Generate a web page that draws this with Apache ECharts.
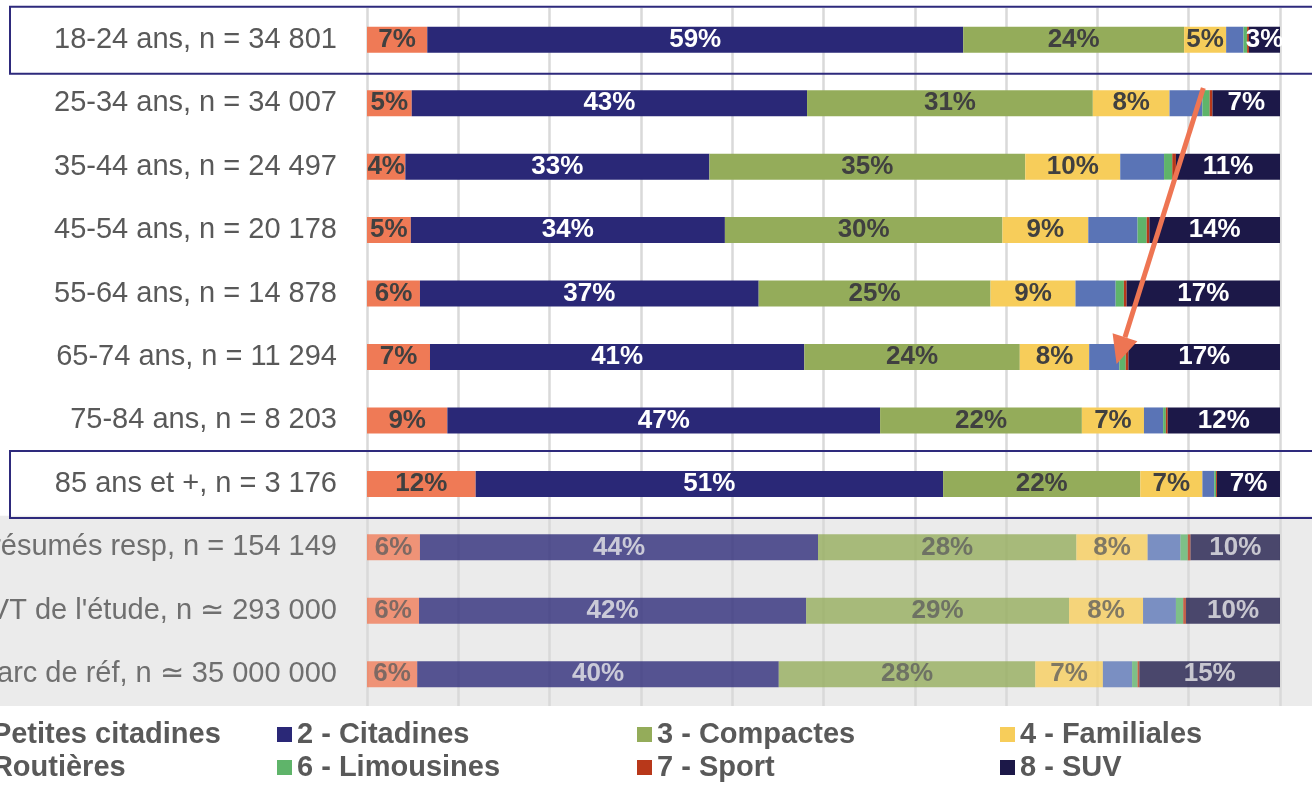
<!DOCTYPE html>
<html>
<head>
<meta charset="utf-8">
<title>Segments par tranche d'âge</title>
<style>
  html, body { margin: 0; padding: 0; background: #ffffff; }
  #chart { width: 1312px; height: 789px; }
</style>
<script src="https://cdn.jsdelivr.net/npm/echarts@6/dist/echarts.min.js"></script>
</head>
<body>
<div id="chart"></div>
<script>
// categories (haut -> bas)
const categories = [
  '18-24 ans, n = 34 801',
  '25-34 ans, n = 34 007',
  '35-44 ans, n = 24 497',
  '45-54 ans, n = 20 178',
  '55-64 ans, n = 14 878',
  '65-74 ans, n = 11 294',
  '75-84 ans, n = 8 203',
  '85 ans et +, n = 3 176',
  'Tous résumés resp, n = 154 149',
  "Total VT de l'étude, n \u2243 293 000",
  'Parc de réf, n \u2243 35 000 000'
];

const segmentNames = [
  '1 - Petites citadines', '2 - Citadines', '3 - Compactes', '4 - Familiales',
  '5 - Routières', '6 - Limousines', '7 - Sport', '8 - SUV'
];

// parts en %, une valeur par catégorie
const petitesCitadines = [6.6, 4.9, 4.2, 4.8, 5.8, 6.9, 8.8, 11.9, 5.8, 5.7, 5.5];
const citadines        = [58.7, 43.3, 33.3, 34.4, 37.1, 41.0, 47.4, 51.2, 43.6, 42.4, 39.6];
const compactes        = [24.2, 31.3, 34.6, 30.4, 25.4, 23.6, 22.1, 21.6, 28.3, 28.8, 28.1];
const familiales       = [4.6, 8.4, 10.4, 9.4, 9.3, 7.6, 6.8, 6.8, 7.8, 8.1, 7.4];
const routieres        = [1.9, 3.6, 4.8, 5.4, 4.4, 3.3, 2.1, 1.3, 3.6, 3.6, 3.2];
const limousines       = [0.4, 0.8, 0.9, 1.0, 0.9, 0.7, 0.3, 0.2, 0.8, 0.8, 0.6];
const sport            = [0.2, 0.3, 0.4, 0.3, 0.3, 0.3, 0.2, 0.1, 0.3, 0.3, 0.2];
const suv              = [3.4, 7.4, 11.4, 14.4, 16.8, 16.6, 12.3, 6.9, 9.8, 10.3, 15.4];

const seriesValues = [petitesCitadines, citadines, compactes, familiales, routieres, limousines, sport, suv];
const colors = ['#EF7A56', '#2A2877', '#94AC5A', '#F7CD5A', '#5A74B6', '#5FB46A', '#B8381A', '#1C1848'];
const labelled = [true, true, true, true, false, false, false, true];
const whiteLabel = [false, true, false, false, false, false, false, true];

const FONT = '"Liberation Sans", Arial, sans-serif';
const firstFaded = 8; // les 3 lignes de référence sur fond gris
const boxedRows = [0, 7];

const chart = echarts.init(document.getElementById('chart'));

const series = seriesValues.map((vals, s) => ({
  name: segmentNames[s],
  type: 'bar',
  stack: 'total',
  barWidth: 26,
  itemStyle: { color: colors[s] },
  label: {
    show: labelled[s],
    position: 'inside',
    fontFamily: FONT,
    fontSize: 26,
    fontWeight: 'bold',
    color: whiteLabel[s] ? '#ffffff' : '#404040',
    formatter: (p) => Math.round(p.value) + '%'
  },
  emphasis: { disabled: true },
  data: vals.map((v, i) => i < firstFaded ? v : {
    value: v,
    itemStyle: { opacity: 0.78 },
    label: { color: whiteLabel[s] ? '#ececec' : '#5e5e5e' }
  })
}));

// une légende par entrée : 4 colonnes x 2 lignes
const legendCols = [-70, 277, 637, 1000];
const legendRows = [720, 753];
const legends = segmentNames.map((name, k) => ({
  data: [name],
  left: legendCols[k % 4],
  top: legendRows[Math.floor(k / 4)],
  icon: 'rect',
  itemWidth: 15,
  itemHeight: 15,
  selectedMode: false,
  padding: 0,
  textStyle: { fontFamily: FONT, fontSize: 29, fontWeight: 'bold', color: '#595959' }
}));

chart.setOption({
  animation: false,
  grid: { left: 367, right: 32, top: 8, bottom: 83, containLabel: false, outerBoundsMode: 'none' },
  xAxis: {
    type: 'value',
    min: 0,
    max: 100,
    interval: 10,
    axisLabel: { show: false },
    axisLine: { show: false },
    axisTick: { show: false },
    splitLine: { lineStyle: { color: '#D9D9D9', width: 2.5 } }
  },
  yAxis: {
    type: 'category',
    inverse: true,
    data: categories.map((c, i) => ({
      value: c,
      textStyle: { color: i < firstFaded ? '#595959' : '#6f6f6f' }
    })),
    axisLine: { show: false },
    axisTick: { show: false },
    axisLabel: { fontFamily: FONT, fontSize: 29, margin: 30 }
  },
  legend: legends,
  series: series
});

// fond gris, cadres et flèche placés à partir des axes
function rowY(i) { return chart.convertToPixel({ yAxisIndex: 0 }, i); }
function valX(v) { return chart.convertToPixel({ xAxisIndex: 0 }, v); }

function drawDecorations() {
  const band = rowY(1) - rowY(0);
  const half = band / 2;
  const graphics = [];

  const bgTop = rowY(firstFaded) - half;
  const bgBottom = rowY(categories.length - 1) + half;
  graphics.push({
    type: 'rect', z: -10, silent: true,
    shape: { x: 0, y: bgTop, width: 1312, height: bgBottom - bgTop },
    style: { fill: '#EBEBEB' }
  });

  boxedRows.forEach((r) => {
    graphics.push({
      type: 'rect', z: 100, silent: true,
      shape: { x: 10, y: rowY(r) - 33, width: 1320, height: 67 },
      style: { fill: null, stroke: '#2E2A7C', lineWidth: 2 }
    });
  });

  // flèche : de 18-24/25-34 vers 65-74
  const sx = valX(91.6), sy = rowY(0) + band * 0.76;
  const tx = valX(82.1), ty = rowY(5) + band * 0.11;
  const dx = tx - sx, dy = ty - sy;
  const len = Math.sqrt(dx * dx + dy * dy);
  const ux = dx / len, uy = dy / len;
  const headLen = 28, headHalf = 13;
  const bx = tx - ux * headLen, by = ty - uy * headLen;
  graphics.push({
    type: 'line', z: 101, silent: true,
    shape: { x1: sx, y1: sy, x2: bx, y2: by },
    style: { stroke: '#EE7553', lineWidth: 5 }
  });
  graphics.push({
    type: 'polygon', z: 101, silent: true,
    shape: { points: [[tx, ty], [bx - uy * headHalf, by + ux * headHalf], [bx + uy * headHalf, by - ux * headHalf]] },
    style: { fill: '#EE7553' }
  });

  chart.setOption({ graphic: graphics });
}

drawDecorations();
</script>
</body>
</html>
